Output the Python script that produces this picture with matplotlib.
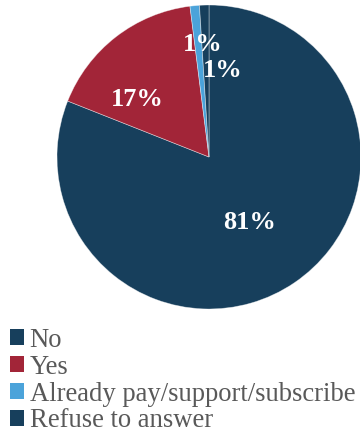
import matplotlib
matplotlib.use('Agg')
import matplotlib.pyplot as plt
from matplotlib.patches import Patch

# survey answers, in percent
answers = ['No', 'Yes', 'Already pay/support/subscribe', 'Refuse to answer']
shares = [81, 17, 1, 1]
colors = ['#173F5C', '#A22538', '#4BA3DA', '#173F5C']

# where each percent label sits (axes data units, pie radius = 1)
label_xy = [(0.27, -0.43), (-0.47, 0.38), (-0.04, 0.74), (0.09, 0.57)]

plt.rcParams['font.family'] = ['Liberation Serif', 'DejaVu Serif']

fig = plt.figure(figsize=(3.6, 4.32), dpi=100)
ax = fig.add_axes([57 / 360, 1 - 309 / 432, 304 / 360, 304 / 432])

wedges, texts, pcts = ax.pie(
    shares, colors=colors, startangle=90, counterclock=False,
    autopct='%1.0f%%', radius=1,
    wedgeprops={'edgecolor': (1, 1, 1, 0.5), 'linewidth': 0.5},
    textprops={'color': 'white', 'fontsize': 19, 'fontweight': 'bold'})

for t, xy in zip(pcts, label_xy):
    t.set_position(xy)

ax.set_xlim(-1, 1)
ax.set_ylim(-1, 1)
ax.set_aspect('equal')
ax.axis('off')

handles = [Patch(facecolor=c, edgecolor='none') for c in colors]
fig.legend(handles, answers, loc='upper left', bbox_to_anchor=(0.027, 0.241),
           frameon=False, fontsize=19.2, labelcolor='#595959',
           handlelength=0.55, handleheight=0.55, handletextpad=0.2,
           labelspacing=0.07, borderpad=0, borderaxespad=0)

fig.savefig('out.png', dpi=100)
